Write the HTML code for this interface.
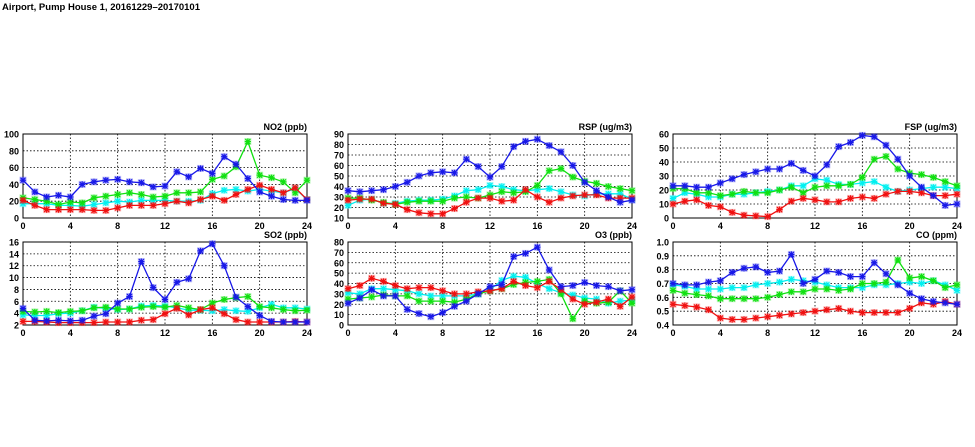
<!DOCTYPE html>
<html><head><meta charset="utf-8">
<style>
html,body{margin:0;padding:0;background:#fff;}
svg{display:block;font-family:"Liberation Sans",sans-serif;}
</style></head>
<body>
<svg id="chart" width="975" height="447" viewBox="0 0 975 447" xmlns="http://www.w3.org/2000/svg">
<text x="2" y="10" font-size="9.5" font-weight="bold" fill="#000" textLength="198" lengthAdjust="spacingAndGlyphs">Airport, Pump House 1, 20161229–20170101</text>
</svg>
<script>
const hours = [0,1,2,3,4,5,6,7,8,9,10,11,12,13,14,15,16,17,18,19,20,21,22,23,24];
const xTicks = [0,4,8,12,16,20,24];
const seriesNames = ["cyan","green","red","blue"];
const seriesColors = ["#00f0f0","#10e010","#f01010","#1818e8"];

const no2Ticks = [0,20,40,60,80,100];
const no2Blue = [45,31,25,27,25,40,43,45,46,43,42,37,38,55,49,59,53,73,64,47,31,26,22,21,21];
const no2Green = [24,22,20,16,19,18,24,26,28,30,28,25,26,30,30,31,46,50,61,91,51,48,43,30,45];
const no2Cyan = [17,17,17,15,15,14,16,18,20,19,21,21,21,20,20,21,29,33,34,32,34,32,30,35,22];
const no2Red = [21,15,10,10,10,10,9,9,12,15,15,15,17,20,18,22,26,21,28,34,39,34,30,36,22];

const so2Ticks = [2,4,6,8,10,12,14,16];
const so2Blue = [4.8,2.8,2.7,2.8,2.7,2.8,3.5,3.9,5.7,6.8,12.7,8.3,6.3,9.2,9.8,14.5,15.7,12,6.7,5.1,3.6,2.6,2.5,2.5,2.5];
const so2Green = [4.3,4.2,4.3,4.1,4.3,4.4,4.9,5.0,4.7,4.7,5.0,5.1,5.0,5.3,4.9,4.6,5.7,6.3,6.6,6.8,5.1,4.9,4.6,4.4,4.5];
const so2Cyan = [3.7,3.6,3.6,3.9,4.0,4.4,5.0,4.8,4.6,4.7,5.2,5.3,5.2,4.9,4.5,4.5,4.4,4.6,4.4,4.3,4.9,5.5,4.9,4.9,4.7];
const so2Red = [2.6,2.6,2.5,2.4,2.4,2.4,2.4,2.5,2.5,2.5,2.8,2.9,3.9,4.8,3.7,4.6,4.9,3.9,2.9,2.5,2.5,2.5,2.5,2.6,2.5];

const rspTicks = [10,20,30,40,50,60,70,80,90];
const rspBlue = [36,35,36,37,40,44,50,53,54,53,66,59,49,59,78,83,85,79,73,60,44,36,30,25,27];
const rspGreen = [29,29,27,25,23,25,26,26,26,29,30,29,32,35,34,35,41,55,57,49,45,43,40,38,36];
const rspCyan = [22,27,28,24,24,26,27,27,28,31,36,37,41,40,37,36,37,38,35,32,31,33,33,33,28];
const rspRed = [27,28,28,24,23,18,15,14,14,19,25,29,29,26,27,37,30,25,29,31,32,32,29,29,29];

const o3Ticks = [0,10,20,30,40,50,60,70,80];
const o3Blue = [21,26,34,28,28,15,11,8,12,18,23,30,37,39,66,69,75,53,37,38,41,38,37,33,34];
const o3Green = [25,26,27,29,28,28,23,23,23,22,25,30,33,35,39,41,42,44,30,6,23,21,22,33,21];
const o3Cyan = [31,30,35,35,34,33,30,28,28,28,28,30,34,43,47,46,40,35,31,29,26,25,21,23,24];
const o3Red = [35,38,45,42,38,35,36,36,33,30,30,32,33,35,42,38,36,42,34,25,20,22,25,18,27];

const fspTicks = [0,10,20,30,40,50,60];
const fspBlue = [23,23,22,22,25,28,31,33,35,35,39,34,30,38,51,54,59,58,52,42,30,22,16,9,10];
const fspGreen = [21,21,18,18,16,17,19,18,18,20,22,18,22,23,23,24,29,42,44,35,32,31,29,26,23];
const fspCyan = [14,18,17,15,15,17,17,18,19,20,23,23,28,27,24,24,25,26,22,19,20,21,22,22,21];
const fspRed = [10,12,13,9,8,4,2,1.5,1,6,12,14,13,11.5,11.5,14,15,14,17,19,19,18,16,16,17];

const coTicks = [0.4,0.5,0.6,0.7,0.8,0.9,1.0];
const coBlue = [.70,.69,.69,.71,.72,.78,.81,.82,.78,.79,.91,.70,.73,.79,.78,.75,.75,.85,.77,.69,.63,.59,.57,.56,.55];
const coGreen = [.65,.63,.62,.61,.59,.59,.59,.59,.60,.62,.64,.64,.66,.66,.65,.66,.70,.70,.71,.87,.74,.75,.72,.67,.69];
const coCyan = [.69,.68,.66,.66,.66,.67,.67,.69,.70,.71,.73,.72,.71,.69,.67,.67,.67,.69,.69,.70,.71,.70,.72,.69,.65];
const coRed = [.55,.54,.53,.51,.45,.44,.44,.45,.46,.47,.48,.49,.50,.51,.52,.50,.49,.49,.49,.49,.52,.56,.55,.57,.55];

const panels = [
 {name:"no2",title:"NO2 (ppb)",x0:23,x1:307,y0:134,y1:218,ticks:no2Ticks,dec:0,series:[no2Cyan,no2Green,no2Red,no2Blue]},
 {name:"so2",title:"SO2 (ppb)",x0:23,x1:307,y0:242,y1:325,ticks:so2Ticks,dec:0,series:[so2Cyan,so2Green,so2Red,so2Blue]},
 {name:"rsp",title:"RSP (ug/m3)",x0:348,x1:632,y0:134,y1:218,ticks:rspTicks,dec:0,series:[rspCyan,rspGreen,rspRed,rspBlue]},
 {name:"o3",title:"O3 (ppb)",x0:348,x1:632,y0:242,y1:325,ticks:o3Ticks,dec:0,series:[o3Cyan,o3Green,o3Red,o3Blue]},
 {name:"fsp",title:"FSP (ug/m3)",x0:673,x1:957,y0:134,y1:218,ticks:fspTicks,dec:0,series:[fspCyan,fspGreen,fspRed,fspBlue]},
 {name:"co",title:"CO (ppm)",x0:673,x1:957,y0:242,y1:325,ticks:coTicks,dec:1,series:[coCyan,coGreen,coRed,coBlue]}
];

const svg = document.getElementById('chart');
const NS = "http://www.w3.org/2000/svg";
function mk(tag, attrs, parent){
  const e = document.createElementNS(NS, tag);
  for (const k in attrs) e.setAttribute(k, attrs[k]);
  parent.appendChild(e);
  return e;
}

panels.forEach(p => {
  const g = mk('g', {}, svg);
  
  
  const tmin = p.ticks[0], tmax = p.ticks[p.ticks.length-1];
  const xs = h => p.x0 + (h - hours[0]) / (hours[hours.length-1] - hours[0]) * (p.x1 - p.x0);
  const ys = v => p.y1 - (v - tmin) / (tmax - tmin) * (p.y1 - p.y0);
  p.ticks.forEach(t => {
    const y = ys(t);
    if (t !== tmin && t !== tmax) {
      const gl = mk('line', {x1:p.x0, x2:p.x1, y1:y, y2:y, stroke:'#000', 'stroke-width':0.8, 'stroke-dasharray':'1.5,2'}, g);
      
      
    }
    const tl = mk('text', {x:p.x0-4, y:y+3.5, 'font-size':9, 'font-weight':'bold', 'text-anchor':'end', fill:'#000'}, g);
    
    
    tl.textContent = t.toFixed(p.dec);
  });
  xTicks.forEach(t => {
    const x = xs(t);
    if (t !== xTicks[0] && t !== xTicks[xTicks.length-1]) {
      const gl = mk('line', {x1:x, x2:x, y1:p.y0, y2:p.y1, stroke:'#000', 'stroke-width':0.8, 'stroke-dasharray':'1.5,2'}, g);
      
      
    }
    const tl = mk('text', {x:x, y:p.y1+11, 'font-size':9, 'font-weight':'bold', 'text-anchor':'middle', fill:'#000'}, g);
    
    
    tl.textContent = t;
  });
  const box = mk('rect', {x:p.x0, y:p.y0, width:p.x1-p.x0, height:p.y1-p.y0, fill:'none', stroke:'#000', 'stroke-width':1}, g);
  
  
  const tt = mk('text', {x:p.x1, y:p.y0-4, 'font-size':9, 'font-weight':'bold', 'text-anchor':'end', fill:'#000'}, g);
  
  
  tt.textContent = p.title;
  p.series.forEach((vals, si) => {
    const col = seriesColors[si];
    const sg = mk('g', {}, g);
    
    
    const pts = vals.map((v,i) => xs(hours[i]).toFixed(1) + ',' + ys(v).toFixed(1)).join(' ');
    const ln = mk('polyline', {points:pts, fill:'none', stroke:col, 'stroke-width':1.3}, sg);
    
    
    vals.forEach((v,i) => {
      const x = xs(hours[i]), y = ys(v), r = 2.5;
      const m = mk('g', {}, sg);
      
      
      mk('rect', {x:x-3.5, y:y-3.5, width:7, height:7, fill:col, opacity:0.3}, m);
      mk('path', {d:`M${x-r},${y-r}L${x+r},${y+r}M${x-r},${y+r}L${x+r},${y-r}M${x},${y-r-0.6}L${x},${y+r+0.6}M${x-r-0.6},${y}L${x+r+0.6},${y}`, stroke:col, 'stroke-width':1.2, fill:'none'}, m);
    });
  });
});
</script>
</body></html>
